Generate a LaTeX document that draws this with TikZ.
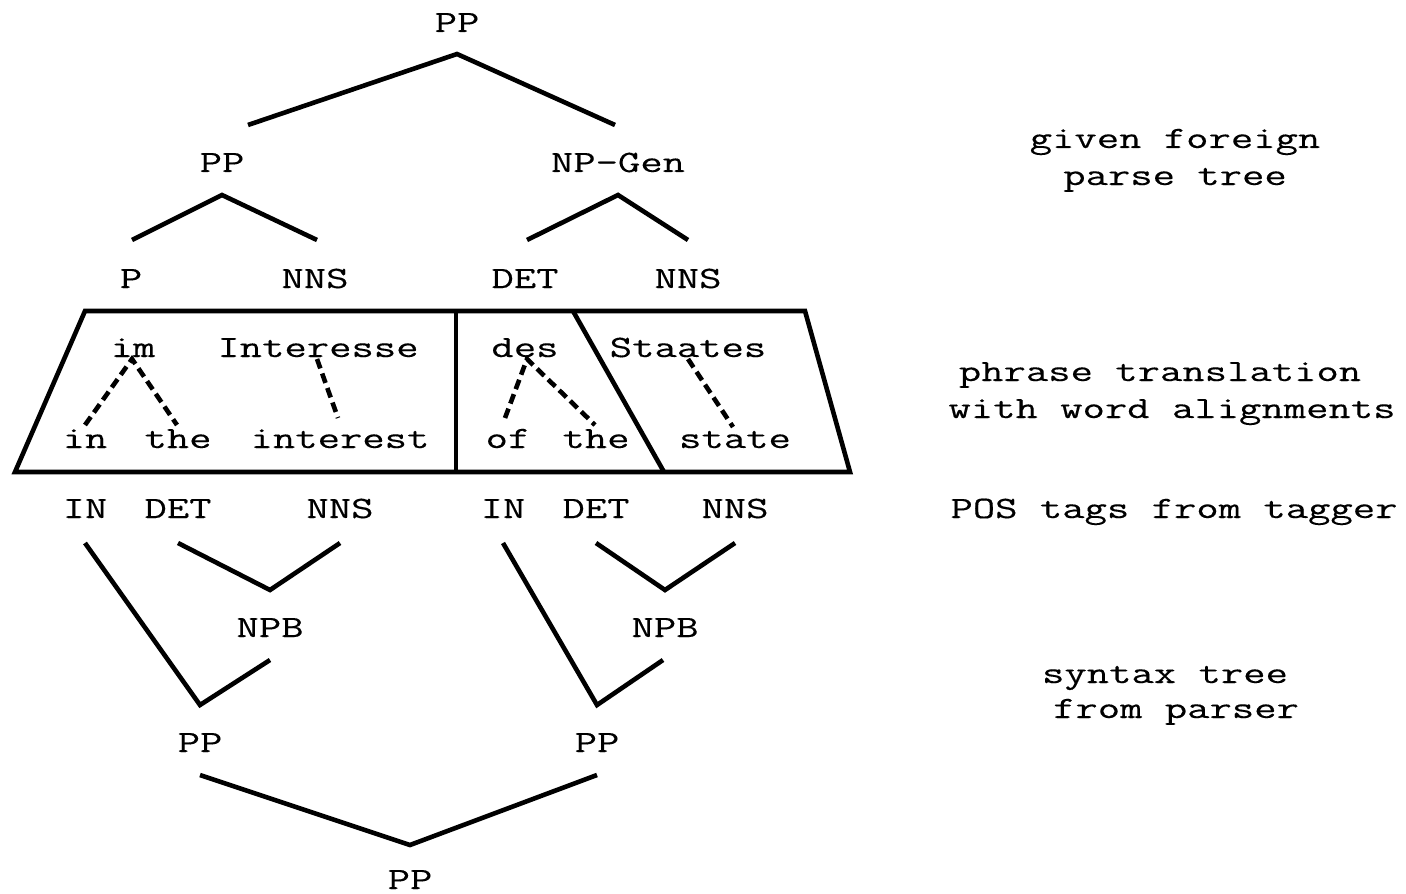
\documentclass[tikz,border=0pt]{standalone}
\usepackage{fontspec}
\setmonofont[FakeStretch=1.4,FakeBold=0.3]{Latin Modern Mono}
\begin{document}
\begin{tikzpicture}[x=0.5pt,y=-0.5pt,
  lbl/.style={inner sep=0pt, anchor=base, font=\ttfamily\fontsize{15.5}{18}\selectfont},
  edge/.style={line width=2.3pt},
  wordlink/.style={line width=2.3pt, dash pattern=on 5pt off 2.7pt}]
\useasboundingbox (0,0) rectangle (1406,893);

% foreign parse tree
\node[lbl] (fTop) at (457,32) {PP};
\node[lbl] (fPP) at (222,172) {PP};
\node[lbl] (fNPG) at (618,172) {NP-Gen};
\node[lbl] (fP) at (131,288) {P};
\node[lbl] (fNNSa) at (315,288) {NNS};
\node[lbl] (fDET) at (525,288) {DET};
\node[lbl] (fNNSb) at (688,288) {NNS};

\coordinate (fTopA) at (457,54);
\coordinate (fTopL) at (248,125);
\coordinate (fTopR) at (615,125);
\coordinate (fPPA) at (222,195);
\coordinate (fPPL) at (132,240);
\coordinate (fPPR) at (317,240);
\coordinate (fNPGA) at (618,195);
\coordinate (fNPGL) at (527,240);
\coordinate (fNPGR) at (688,240);
\draw[edge] (fTopL) -- (fTopA) -- (fTopR);
\draw[edge] (fPPL) -- (fPPA) -- (fPPR);
\draw[edge] (fNPGL) -- (fNPGA) -- (fNPGR);

% phrase boxes
\coordinate (bTL) at (85,311);
\coordinate (bTR) at (805,311);
\coordinate (bBR) at (850,472);
\coordinate (bBL) at (15,472);
\coordinate (dAT) at (456,311);
\coordinate (dAB) at (456,472);
\coordinate (dBT) at (573,311);
\coordinate (dBB) at (664,472);
\draw[edge, line join=miter] (bTL) -- (bTR) -- (bBR) -- (bBL) -- cycle;
\draw[edge] (dAT) -- (dAB);
\draw[edge] (dBT) -- (dBB);

% foreign words
\node[lbl] (wIm) at (133,357) {im};
\node[lbl] (wInteresse) at (318,357) {Interesse};
\node[lbl] (wDes) at (525,357) {des};
\node[lbl] (wStaates) at (688,357) {Staates};
% english words
\node[lbl] (eIn) at (85,448) {in};
\node[lbl] (eThe) at (178,448) {the};
\node[lbl] (eInterest) at (340,448) {interest};
\node[lbl] (eOf) at (508,448) {of};
\node[lbl] (eThe2) at (596,448) {the};
\node[lbl] (eState) at (735,448) {state};

% word alignments
\coordinate (aIm) at (132,359);
\coordinate (aIn) at (85,425);
\coordinate (aThe) at (177,425);
\coordinate (aInt1) at (317,359);
\coordinate (aInt2) at (338,418);
\coordinate (aDes) at (527,359);
\coordinate (aOf) at (505,418);
\coordinate (aThe2) at (595,425);
\coordinate (aSt1) at (688,359);
\coordinate (aSt2) at (733,427);
\draw[wordlink] (aIn) -- (aIm) -- (aThe);
\draw[wordlink] (aInt1) -- (aInt2);
\draw[wordlink] (aOf) -- (aDes) -- (aThe2);
\draw[wordlink] (aSt1) -- (aSt2);

% POS tags
\node[lbl] (tIn) at (85,518) {IN};
\node[lbl] (tDet) at (178,518) {DET};
\node[lbl] (tNns) at (340,518) {NNS};
\node[lbl] (tIn2) at (503,518) {IN};
\node[lbl] (tDet2) at (596,518) {DET};
\node[lbl] (tNns2) at (735,518) {NNS};

% english syntax tree
\node[lbl] (sNpb) at (270,637) {NPB};
\node[lbl] (sNpb2) at (665,637) {NPB};
\node[lbl] (sPP) at (200,752) {PP};
\node[lbl] (sPP2) at (597,752) {PP};
\node[lbl] (sRoot) at (410,889) {PP};

\coordinate (cIn) at (85,543);
\coordinate (cDet) at (178,543);
\coordinate (cNns) at (340,543);
\coordinate (cNpbA) at (270,590);
\coordinate (cNpbB) at (270,660);
\coordinate (cPPA) at (200,705);
\coordinate (cIn2) at (503,543);
\coordinate (cDet2) at (596,543);
\coordinate (cNns2) at (735,543);
\coordinate (cNpb2A) at (665,590);
\coordinate (cNpb2B) at (663,660);
\coordinate (cPP2A) at (597,705);
\coordinate (cPPB) at (200,775);
\coordinate (cPP2B) at (597,775);
\coordinate (cRootA) at (410,845);
\draw[edge] (cDet) -- (cNpbA) -- (cNns);
\draw[edge] (cIn) -- (cPPA) -- (cNpbB);
\draw[edge] (cDet2) -- (cNpb2A) -- (cNns2);
\draw[edge] (cIn2) -- (cPP2A) -- (cNpb2B);
\draw[edge] (cPPB) -- (cRootA) -- (cPP2B);

% row captions
\node[lbl] (capA1) at (1175,148) {given foreign};
\node[lbl] (capA2) at (1175,185) {parse tree};
\node[lbl] (capB1) at (1160,381) {phrase translation};
\node[lbl] (capB2) at (1172,418) {with word alignments};
\node[lbl] (capC) at (1174,518) {POS tags from tagger};
\node[lbl] (capD1) at (1165,683) {syntax tree};
\node[lbl] (capD2) at (1176,718) {from parser};
\end{tikzpicture}
\end{document}
